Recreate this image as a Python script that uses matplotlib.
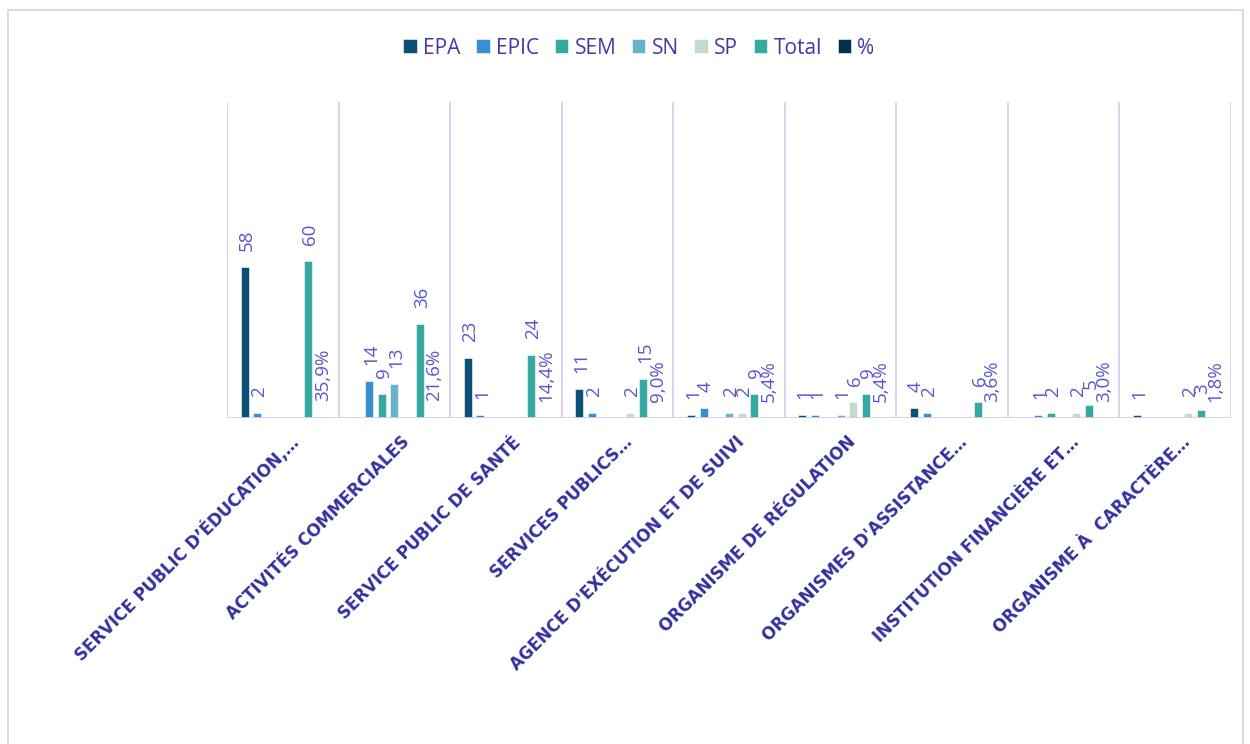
import matplotlib.pyplot as plt
from matplotlib.patches import Rectangle
import numpy as np

categories = ["SERVICE PUBLIC D\u2019ÉDUCATION,\u2026", "ACTIVITÉS COMMERCIALES",
              "SERVICE PUBLIC DE SANTÉ", "SERVICES PUBLICS\u2026",
              "AGENCE D'EXÉCUTION ET DE SUIVI", "ORGANISME DE RÉGULATION",
              "ORGANISMES D'ASSISTANCE\u2026", "INSTITUTION FINANCIÈRE ET\u2026",
              "ORGANISME À  CARACTÈRE\u2026"]
series_names = ["EPA", "EPIC", "SEM", "SN", "SP", "Total", "%"]
epa = [58, 0, 23, 11, 1, 1, 4, 0, 1]
epic = [2, 14, 1, 2, 4, 1, 2, 1, 0]
sem = [0, 9, 0, 0, 0, 0, 0, 2, 0]
sn = [0, 13, 0, 0, 2, 1, 0, 0, 0]
sp = [0, 0, 0, 2, 2, 6, 0, 2, 2]
total = [60, 36, 24, 15, 9, 9, 6, 5, 3]
pct = [0.359, 0.216, 0.144, 0.090, 0.054, 0.054, 0.036, 0.030, 0.018]

colors = ["#0b4f72", "#3790d2", "#35a99f", "#68b2ca", "#c2dccc", "#35a99f", "#05304a"]
label_col = "#5a56cf"
line_col = "#d3cff0"
font = "Open Sans"

fig = plt.figure(figsize=(12.5, 7.44), dpi=100)
ax = fig.add_axes([227/1250, 1-418/744, (1231-227)/1250, (418-102)/744])

x = np.arange(len(categories))
slot = 0.114
width = 0.072
data = [epa, epic, sem, sn, sp, total, pct]
for k, (name, vals) in enumerate(zip(series_names, data)):
    pos = x + (k - 3) * slot
    ax.bar(pos, vals, width, color=colors[k], label=name,
           edgecolor="white", linewidth=0.4)
    for p, v in zip(pos, vals):
        if v == 0:
            continue
        if name == "%":
            txt = f"{v*100:.1f}%".replace(".", ",")
        else:
            txt = str(v)
        ax.annotate(txt, (p, v), xytext=(2, 16), textcoords="offset pixels",
                    rotation=90, ha="center", va="bottom", color=label_col,
                    fontsize=13.5, family=font)

ax.set_xlim(-0.5, len(categories) - 0.5)
ax.set_ylim(0, 121)
for b in np.arange(-0.5, len(categories), 1):
    ax.axvline(b, color=line_col, lw=1.3, zorder=0)
ax.axhline(0, color=line_col, lw=2)
for s in ax.spines.values():
    s.set_visible(False)
ax.set_xticks([])
ax.set_yticks([])

# category labels, rotated, ending at the category centre
for i, c in enumerate(categories):
    ax.annotate(c, (i, 0), xytext=(6, -15), textcoords="offset pixels",
                rotation=45, rotation_mode="anchor", ha="right", va="top",
                fontsize=12, fontweight="bold", color="#34309e",
                family="DejaVu Sans")

fig.legend(loc="center", bbox_to_anchor=(639/1250, 1-48/744), ncol=7, frameon=False,
           handlelength=0.65, handleheight=0.65, handletextpad=0.3,
           columnspacing=0.75, prop={"family": font, "size": 15},
           labelcolor="#3f3aa8")

fig.add_artist(Rectangle((8/1250, -0.05), (1243-8)/1250, 0.05+1-10/744,
                         transform=fig.transFigure, fill=False,
                         edgecolor=line_col, lw=1.2))

fig.savefig("out.png", dpi=100)
